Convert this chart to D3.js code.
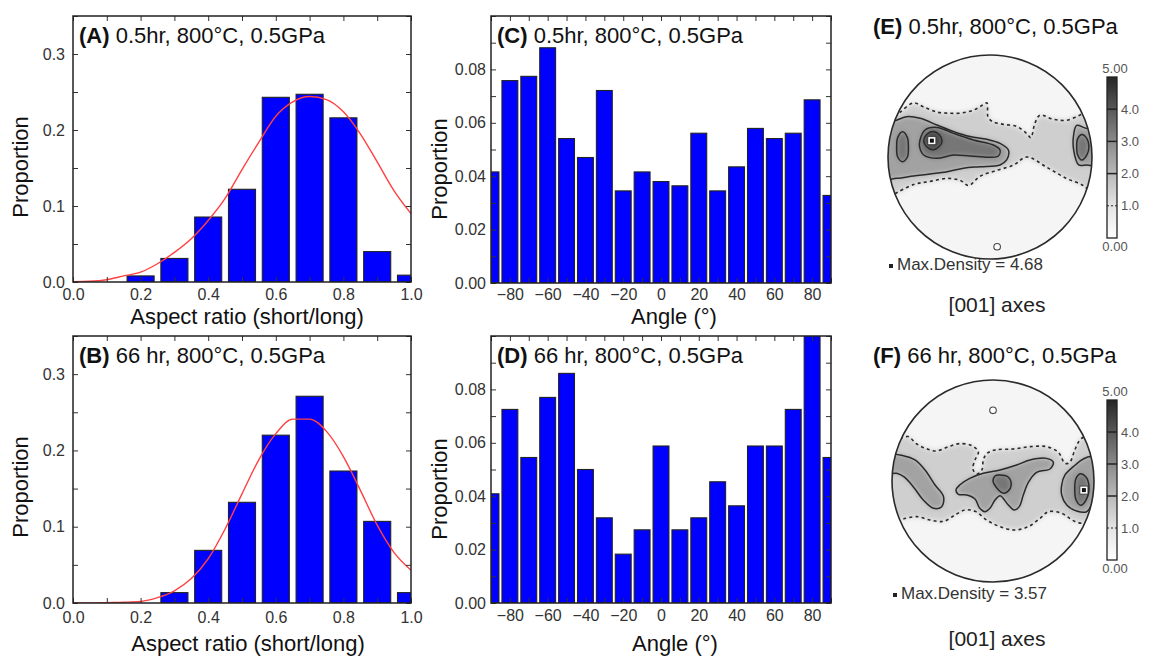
<!DOCTYPE html>
<html><head><meta charset="utf-8">
<script src="https://cdn.jsdelivr.net/npm/d3@7"></script>
<style>
body{margin:0;background:#fff;}
text{font-family:"Liberation Sans","Arimo",Arial,Helvetica,sans-serif;}
</style>
</head><body>
<svg id="chart" width="1149" height="657"></svg>
<script>
// ---------------- DATA ----------------
const conditions = ["0.5hr, 800°C, 0.5GPa", "66 hr, 800°C, 0.5GPa"];

// Aspect-ratio histograms (bin centres)
const aspectBins = [0.2, 0.3, 0.4, 0.5, 0.6, 0.7, 0.8, 0.9, 1.0];
const aspectA = [0.008, 0.031, 0.0855, 0.122, 0.243, 0.247, 0.216, 0.040, 0.009];
const aspectB = [0.000, 0.0136, 0.069, 0.132, 0.220, 0.271, 0.173, 0.107, 0.0136];
const aspectTickLabels = [0.0, 0.2, 0.4, 0.6, 0.8, 1.0];
const aspectYTickLabels = [0.0, 0.1, 0.2, 0.3];

// Fitted curves
const fitX = [0, 0.05, 0.1, 0.15, 0.2, 0.25, 0.3, 0.35, 0.4, 0.45, 0.5, 0.55, 0.6, 0.65, 0.7, 0.75, 0.8, 0.85, 0.9, 0.95, 1.0];
const fitA = [0.0005, 0.001, 0.003, 0.008, 0.013, 0.024, 0.039, 0.057, 0.081, 0.110, 0.148, 0.184, 0.218, 0.237, 0.244, 0.240, 0.224, 0.195, 0.158, 0.120, 0.090];
const fitB = [0, 0, 0.0005, 0.001, 0.002, 0.007, 0.016, 0.032, 0.058, 0.097, 0.143, 0.188, 0.222, 0.241, 0.241, 0.225, 0.192, 0.148, 0.102, 0.066, 0.043];

// Angle histograms (bin centres, degrees)
const angleBins = [-90, -80, -70, -60, -50, -40, -30, -20, -10, 0, 10, 20, 30, 40, 50, 60, 70, 80, 90];
const angleC = [0.0416, 0.0758, 0.0774, 0.0881, 0.0541, 0.0470, 0.0721, 0.0345, 0.0416, 0.0380, 0.0364, 0.0561, 0.0345, 0.0435, 0.0579, 0.0541, 0.0561, 0.0686, 0.0328];
const angleD = [0.0409, 0.0725, 0.0545, 0.0770, 0.0860, 0.0500, 0.0319, 0.0183, 0.0274, 0.0588, 0.0274, 0.0319, 0.0454, 0.0364, 0.0588, 0.0588, 0.0725, 0.1040, 0.0545];
const angleTickLabels = [-80, -60, -40, -20, 0, 20, 40, 60, 80];
const angleYTickLabels = [0.00, 0.02, 0.04, 0.06, 0.08];

// Pole figures: contour lines in unit-disc coordinates [u (right), v (up)]
const E_level1Upper = [[-0.93,0.395],[-0.88,0.44],[-0.75,0.53],[-0.65,0.49],[-0.52,0.44],[-0.42,0.43],[-0.29,0.43],[-0.16,0.46],[-0.07,0.51],[-0.03,0.53],[-0.02,0.395],[0.02,0.35],[0.13,0.32],[0.26,0.30],[0.36,0.23],[0.40,0.19],[0.44,0.33],[0.49,0.41],[0.62,0.37],[0.75,0.36],[0.88,0.41],[0.98,0.46]];
const E_level1Lower = [[-0.93,-0.36],[-0.75,-0.27],[-0.59,-0.24],[-0.42,-0.21],[-0.29,-0.23],[-0.21,-0.28],[-0.10,-0.19],[0.07,-0.13],[0.23,-0.08],[0.36,0.0],[0.555,-0.10],[0.75,-0.21],[0.915,-0.28],[1.0,-0.36]];
const E_level2 = [
  [[-1.1,0.35],[-0.95,0.35],[-0.82,0.395],[-0.686,0.38],[-0.52,0.314],[-0.36,0.25],[-0.196,0.20],[-0.03,0.173],[0.098,0.134],[0.18,0.069],[0.163,-0.029],[0.098,-0.078],[-0.098,-0.095],[-0.26,-0.11],[-0.42,-0.144],[-0.59,-0.167],[-0.75,-0.186],[-0.915,-0.209],[-1.1,-0.21]],
  [[0.85,0.31],[0.95,0.28],[1.1,0.3],[1.1,-0.08],[0.95,-0.078],[0.87,-0.078],[0.82,0.069],[0.82,0.216]]
];
const E_level3 = [
  [[-0.857,0.248],[-0.81,0.19],[-0.80,0.10],[-0.81,0.0],[-0.857,-0.046],[-0.905,0.0],[-0.915,0.10],[-0.905,0.19]],
  [[-0.686,0.167],[-0.637,0.265],[-0.52,0.29],[-0.36,0.232],[-0.163,0.167],[0.033,0.118],[0.098,0.069],[0.082,0.01],[0.0,-0.003],[-0.196,0.01],[-0.36,0.02],[-0.52,-0.013],[-0.65,0.02],[-0.69,0.10]],
  [[0.90,0.22],[0.95,0.18],[0.97,0.10],[0.95,0.02],[0.90,-0.03],[0.86,0.02],[0.85,0.10],[0.86,0.18]]
];
const E_level4 = [
  [[-0.56,0.25],[-0.50,0.22],[-0.47,0.16],[-0.50,0.10],[-0.56,0.07],[-0.62,0.10],[-0.65,0.16],[-0.62,0.22]]
];
const E_max = [-0.57, 0.16];
const E_open = [0.07, -0.88];
const E_maxDensity = 4.68;

const F_level1Upper = [[-0.92,0.42],[-0.84,0.44],[-0.76,0.37],[-0.66,0.32],[-0.56,0.297],[-0.44,0.34],[-0.33,0.37],[-0.21,0.35],[-0.145,0.29],[-0.178,0.208],[-0.20,0.12],[-0.16,0.07],[-0.11,0.11],[-0.096,0.208],[-0.063,0.27],[0.02,0.307],[0.20,0.317],[0.366,0.34],[0.53,0.34],[0.647,0.284],[0.713,0.175],[0.76,0.185],[0.81,0.307],[0.86,0.406],[0.927,0.455],[0.99,0.50]];
const F_level1Lower = [[-0.888,-0.376],[-0.756,-0.353],[-0.624,-0.386],[-0.49,-0.40],[-0.376,-0.337],[-0.277,-0.287],[-0.178,-0.30],[-0.063,-0.386],[0.069,-0.452],[0.218,-0.485],[0.35,-0.452],[0.465,-0.37],[0.548,-0.304],[0.68,-0.32],[0.81,-0.40],[0.927,-0.42],[1.0,-0.37]];
const F_level2 = [
  [[-1.1,0.257],[-0.888,0.25],[-0.772,0.208],[-0.673,0.109],[-0.574,-0.04],[-0.49,-0.155],[-0.508,-0.254],[-0.59,-0.27],[-0.69,-0.188],[-0.79,-0.056],[-0.88,0.04],[-0.954,0.076],[-1.1,0.076]],
  [[-0.366,-0.089],[-0.33,-0.04],[-0.23,0.026],[-0.096,0.076],[0.07,0.109],[0.234,0.158],[0.366,0.208],[0.53,0.224],[0.597,0.185],[0.564,0.119],[0.432,0.086],[0.35,-0.013],[0.30,-0.139],[0.26,-0.254],[0.208,-0.287],[0.152,-0.238],[0.07,-0.145],[0.02,-0.188],[-0.03,-0.27],[-0.08,-0.304],[-0.135,-0.264],[-0.178,-0.178],[-0.26,-0.139],[-0.343,-0.132]],
  [[0.713,0.06],[0.795,0.142],[0.894,0.218],[0.977,0.24],[1.1,0.10],[1.1,-0.20],[0.993,-0.22],[0.927,-0.304],[0.828,-0.297],[0.73,-0.238],[0.68,-0.139],[0.68,-0.04]]
];
const F_level3 = [
  [[0.06,0.06],[0.15,0.04],[0.18,-0.04],[0.15,-0.10],[0.10,-0.12],[0.03,-0.06],[0.0,0.0],[0.02,0.05]],
  [[0.86,0.07],[0.92,0.04],[0.95,-0.05],[0.93,-0.17],[0.87,-0.24],[0.82,-0.18],[0.81,-0.07],[0.82,0.02]]
];
const F_level4 = [];
const F_max = [0.90, -0.09];
const F_open = [0.0, 0.70];
const F_maxDensity = 3.57;

const densityLevels = [0, 1, 2, 3, 4, 5];
const densityColors = ["#ffffff", "#e4e4e4", "#b9b9b9", "#8a8a8a", "#585858", "#262626"];
const colorbarLabels = [4.0, 3.0, 2.0, 1.0];

// ---------------- DRAWING ----------------
const svg = d3.select("#chart");
const defs = svg.append("defs");
defs.append("filter").attr("id", "blur").attr("x", "-20%").attr("y", "-20%").attr("width", "140%").attr("height", "140%")
  .append("feGaussianBlur").attr("stdDeviation", 2.6);

const FONT = '"Liberation Sans", Arial, Helvetica, sans-serif';
const near = (a, b) => Math.abs(a - b) < 1e-9;

function titleText(g, x, y, letter, cond) {
  const t = g.append("text").attr("x", x).attr("y", y).attr("font-size", 22).attr("fill", "#111");
  t.append("tspan").attr("font-weight", "bold").text("(" + letter + ")");
  t.append("tspan").text(" " + cond);
}

function drawHist(cfg) {
  const x = d3.scaleLinear().domain(cfg.xDom).range([cfg.left, cfg.right]);
  const y = d3.scaleLinear().domain(cfg.yDom).range([cfg.bottom, cfg.top]);
  const g = svg.append("g");
  const clipId = "clip" + cfg.letter;
  defs.append("clipPath").attr("id", clipId).append("rect")
    .attr("x", cfg.left).attr("y", cfg.top).attr("width", cfg.right - cfg.left).attr("height", cfg.bottom - cfg.top);
  const plot = g.append("g").attr("clip-path", `url(#${clipId})`);
  const data = cfg.cats.map((c, i) => ({ c, v: cfg.vals[i] })).filter(d => d.v > 0);
  plot.selectAll("rect").data(data).join("rect")
    .attr("x", d => x(d.c - cfg.halfW)).attr("width", d => x(d.c + cfg.halfW) - x(d.c - cfg.halfW))
    .attr("y", d => y(d.v)).attr("height", d => y(0) - y(d.v))
    .attr("fill", "#0000ff").attr("stroke", "#222").attr("stroke-width", 1.1);
  if (cfg.fitY) {
    plot.append("path").datum(cfg.fitX.map((c, i) => [c, cfg.fitY[i]]))
      .attr("d", d3.line().x(d => x(d[0])).y(d => y(d[1])).curve(d3.curveMonotoneX))
      .attr("fill", "none").attr("stroke", "#ff4040").attr("stroke-width", 1.4);
  }
  const styleAxis = a => {
    a.select(".domain").remove();
    a.selectAll("line").attr("stroke", "#333").attr("stroke-width", 1);
    a.selectAll("text").attr("font-size", 16).attr("fill", "#333").attr("font-family", FONT);
  };
  const xf = d => cfg.xLabels.some(m => near(m, d)) ? cfg.xFmt(d) : "";
  const yf = d => cfg.yLabels.some(m => near(m, d)) ? cfg.yFmt(d) : "";
  g.append("g").attr("transform", `translate(0,${cfg.bottom})`)
    .call(d3.axisBottom(x).tickValues(cfg.xTicks).tickSize(-5).tickPadding(cfg.xPad).tickFormat(xf)).call(styleAxis);
  g.append("g").attr("transform", `translate(0,${cfg.top})`)
    .call(d3.axisTop(x).tickValues(cfg.xTicks).tickSize(-5).tickFormat("")).call(styleAxis);
  g.append("g").attr("transform", `translate(${cfg.left},0)`)
    .call(d3.axisLeft(y).tickValues(cfg.yTicks).tickSize(-5).tickPadding(cfg.yPad).tickFormat(yf)).call(styleAxis);
  g.append("g").attr("transform", `translate(${cfg.right},0)`)
    .call(d3.axisRight(y).tickValues(cfg.yTicks).tickSize(-5).tickFormat("")).call(styleAxis);
  g.append("rect").attr("x", cfg.left).attr("y", cfg.top).attr("width", cfg.right - cfg.left).attr("height", cfg.bottom - cfg.top)
    .attr("fill", "none").attr("stroke", "#222").attr("stroke-width", 1.5);
  titleText(g, cfg.left + 6, cfg.top + 27, cfg.letter, cfg.cond);
  g.append("text").attr("transform", `translate(${cfg.yTitleX},${cfg.yTitleY}) rotate(-90)`)
    .attr("text-anchor", "middle").attr("font-size", 22).attr("fill", "#111").text("Proportion");
  g.append("text").attr("x", cfg.xTitleX).attr("y", cfg.xTitleY).attr("text-anchor", "middle")
    .attr("font-size", 22).attr("fill", "#111").text(cfg.xTitle);
}

const minus = d3.format(".0f");
const angleFmt = d => (d < 0 ? "\u2212" + minus(-d) : minus(d));
const aspectTicks = d3.range(0, 1.0001, 0.1);
const aspectYTicks = d3.range(0, 0.3501, 0.05);
const angleTicks = d3.range(-90, 90.001, 10);
const angleYTicks = d3.range(0, 0.1001, 0.01);

drawHist({ letter: "A", cond: conditions[0], left: 73, right: 411, top: 16, bottom: 282,
  xDom: [0, 1], yDom: [0, 0.35], cats: aspectBins, vals: aspectA, halfW: 0.04, fitX, fitY: fitA,
  xTicks: aspectTicks, xLabels: aspectTickLabels, xFmt: d3.format(".1f"), xPad: 7,
  yTicks: aspectYTicks, yLabels: aspectYTickLabels, yFmt: d3.format(".1f"), yPad: 8,
  yTitleX: 28, yTitleY: 167, xTitle: "Aspect ratio (short/long)", xTitleX: 247, xTitleY: 324 });
drawHist({ letter: "B", cond: conditions[1], left: 73, right: 411, top: 336, bottom: 603,
  xDom: [0, 1], yDom: [0, 0.35], cats: aspectBins, vals: aspectB, halfW: 0.04, fitX, fitY: fitB,
  xTicks: aspectTicks, xLabels: aspectTickLabels, xFmt: d3.format(".1f"), xPad: 9,
  yTicks: aspectYTicks, yLabels: aspectYTickLabels, yFmt: d3.format(".1f"), yPad: 8,
  yTitleX: 28, yTitleY: 487, xTitle: "Aspect ratio (short/long)", xTitleX: 248, xTitleY: 651 });
drawHist({ letter: "C", cond: conditions[0], left: 491, right: 831, top: 16, bottom: 283,
  xDom: [-90, 90], yDom: [0, 0.1], cats: angleBins, vals: angleC, halfW: 4.2,
  xTicks: angleTicks, xLabels: angleTickLabels, xFmt: angleFmt, xPad: 6,
  yTicks: angleYTicks, yLabels: angleYTickLabels, yFmt: d3.format(".2f"), yPad: 5,
  yTitleX: 447, yTitleY: 169, xTitle: "Angle (°)", xTitleX: 674, xTitleY: 324 });
drawHist({ letter: "D", cond: conditions[1], left: 491, right: 831, top: 336, bottom: 603,
  xDom: [-90, 90], yDom: [0, 0.1], cats: angleBins, vals: angleD, halfW: 4.2,
  xTicks: angleTicks, xLabels: angleTickLabels, xFmt: angleFmt, xPad: 7,
  yTicks: angleYTicks, yLabels: angleYTickLabels, yFmt: d3.format(".2f"), yPad: 5,
  yTitleX: 447, yTitleY: 489, xTitle: "Angle (°)", xTitleX: 675, xTitleY: 651 });

// ---- pole figures ----
const dColor = d3.scaleLinear().domain(densityLevels).range(densityColors);

function drawPole(cfg) {
  const u = d3.scaleLinear().domain([-1, 1]).range([cfg.cx - cfg.r, cfg.cx + cfg.r]);
  const v = d3.scaleLinear().domain([-1, 1]).range([cfg.cy + cfg.r, cfg.cy - cfg.r]);
  const g = svg.append("g");
  const clipId = "pf" + cfg.letter;
  defs.append("clipPath").attr("id", clipId).append("circle").attr("cx", cfg.cx).attr("cy", cfg.cy).attr("r", cfg.r);
  const inner = g.append("g").attr("clip-path", `url(#${clipId})`);
  inner.append("circle").attr("cx", cfg.cx).attr("cy", cfg.cy).attr("r", cfg.r).attr("fill", "#f5f5f5");
  const closed = d3.line().x(d => u(d[0])).y(d => v(d[1])).curve(d3.curveCatmullRomClosed.alpha(0.5));
  const open = d3.line().x(d => u(d[0])).y(d => v(d[1])).curve(d3.curveCatmullRom.alpha(0.5));
  const up = cfg.upper, lo = cfg.lower;
  const band = [[-1.3, up[0][1]], ...up, [1.3, up[up.length - 1][1]], [1.3, lo[lo.length - 1][1]], ...lo.slice().reverse(), [-1.3, lo[0][1]]];
  const fills = inner.append("g").attr("filter", "url(#blur)");
  fills.append("path").attr("d", d3.line().x(d => u(d[0])).y(d => v(d[1])).curve(d3.curveLinearClosed)(band)).attr("fill", dColor(1.5));
  fills.selectAll("path.l2").data(cfg.l2).join("path").attr("class", "l2").attr("d", closed).attr("fill", dColor(2.5));
  fills.selectAll("path.l3").data(cfg.l3).join("path").attr("class", "l3").attr("d", closed).attr("fill", dColor(3.4));
  fills.selectAll("path.l4").data(cfg.l4).join("path").attr("class", "l4").attr("d", closed).attr("fill", dColor(4.4));
  const lines = inner.append("g").attr("fill", "none").attr("stroke", "#2a2a2a");
  lines.selectAll("path.dash").data([up, lo]).join("path").attr("class", "dash").attr("d", open)
    .attr("stroke-width", 1.6).attr("stroke-dasharray", "3,3.2");
  lines.selectAll("path.solid").data([...cfg.l2, ...cfg.l3, ...cfg.l4]).join("path").attr("class", "solid")
    .attr("d", closed).attr("stroke-width", 1.5);
  g.append("circle").attr("cx", cfg.cx).attr("cy", cfg.cy).attr("r", cfg.r).attr("fill", "none").attr("stroke", "#2a2a2a").attr("stroke-width", 1.6);
  // markers
  g.append("circle").attr("cx", u(cfg.open[0])).attr("cy", v(cfg.open[1])).attr("r", 3.3).attr("fill", "#fff").attr("stroke", "#444").attr("stroke-width", 1.1);
  g.append("rect").attr("x", u(cfg.max[0]) - 4).attr("y", v(cfg.max[1]) - 4).attr("width", 8).attr("height", 8).attr("fill", "#fff").attr("stroke", "#333").attr("stroke-width", 0.8);
  g.append("rect").attr("x", u(cfg.max[0]) - 2).attr("y", v(cfg.max[1]) - 2).attr("width", 4).attr("height", 4).attr("fill", "#111");
  // title
  titleText(g, 873, cfg.titleY, cfg.letter, cfg.cond);
  // legend
  g.append("rect").attr("x", cfg.cx - cfg.r + 1).attr("y", cfg.legendY - 6).attr("width", 4).attr("height", 4).attr("fill", "#222");
  g.append("text").attr("x", cfg.cx - cfg.r + 9).attr("y", cfg.legendY).attr("font-size", 17).attr("fill", "#333")
    .text("Max.Density = " + d3.format(".2f")(cfg.maxVal));
  g.append("text").attr("x", 997).attr("y", cfg.axesY).attr("text-anchor", "middle").attr("font-size", 21).attr("fill", "#222").text("[001] axes");
  // colour bar
  const cb = d3.scaleLinear().domain([0, 5]).range([cfg.cbBottom, cfg.cbTop]);
  const gid = "grad" + cfg.letter;
  const grad = defs.append("linearGradient").attr("id", gid).attr("x1", 0).attr("y1", 1).attr("x2", 0).attr("y2", 0);
  densityLevels.forEach((d, i) => grad.append("stop").attr("offset", d / 5).attr("stop-color", densityColors[i]));
  g.append("rect").attr("x", 1107).attr("y", cfg.cbTop).attr("width", 10).attr("height", cfg.cbBottom - cfg.cbTop)
    .attr("fill", `url(#${gid})`).attr("stroke", "#222").attr("stroke-width", 1.3);
  g.selectAll("line.cbl").data(colorbarLabels).join("line").attr("class", "cbl")
    .attr("x1", 1107).attr("x2", 1117).attr("y1", d => cb(d)).attr("y2", d => cb(d))
    .attr("stroke", "#222").attr("stroke-width", d => d === 1 ? 1 : 1.5).attr("stroke-dasharray", d => d === 1 ? "2,2" : null);
  g.selectAll("text.cbt").data(colorbarLabels).join("text").attr("class", "cbt")
    .attr("x", 1121).attr("y", d => cb(d) + 4.5).attr("font-size", 13).attr("fill", "#555").text(d3.format(".1f"));
  g.append("text").attr("x", 1115).attr("y", cfg.cbTop - 4).attr("text-anchor", "middle").attr("font-size", 13).attr("fill", "#555").text(d3.format(".2f")(5));
  g.append("text").attr("x", 1115).attr("y", cfg.cbBottom + 13).attr("text-anchor", "middle").attr("font-size", 13).attr("fill", "#555").text(d3.format(".2f")(0));
}

drawPole({ letter: "E", cond: conditions[0], cx: 990, cy: 157, r: 102, titleY: 34,
  upper: E_level1Upper, lower: E_level1Lower, l2: E_level2, l3: E_level3, l4: E_level4,
  max: E_max, open: E_open, maxVal: E_maxDensity, legendY: 270, axesY: 312, cbTop: 77, cbBottom: 238 });
drawPole({ letter: "F", cond: conditions[1], cx: 993, cy: 481, r: 101, titleY: 363,
  upper: F_level1Upper, lower: F_level1Lower, l2: F_level2, l3: F_level3, l4: F_level4,
  max: F_max, open: F_open, maxVal: F_maxDensity, legendY: 599, axesY: 646, cbTop: 400, cbBottom: 560 });
</script>
</body></html>
